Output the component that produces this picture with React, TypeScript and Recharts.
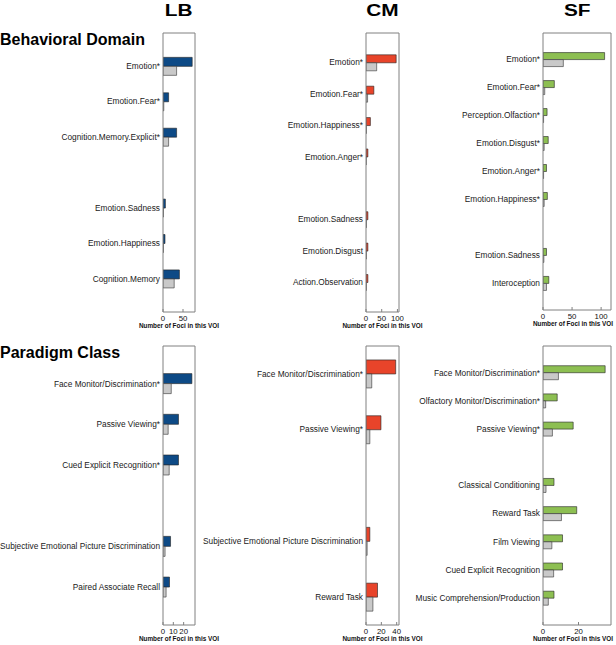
import React from 'react';
import { BarChart, Bar, XAxis, YAxis } from 'recharts';

// Behavioral Domain
const lbDomainCats = ['Emotion*', 'Emotion.Fear*', 'Cognition.Memory.Explicit*', '', 'Emotion.Sadness', 'Emotion.Happiness', 'Cognition.Memory'];
const lbDomainObs = [73, 14, 34, null, 6, 5, 41];
const lbDomainExp = [34, 2, 14, null, 1, 1, 28];

const cmDomainCats = ['Emotion*', 'Emotion.Fear*', 'Emotion.Happiness*', 'Emotion.Anger*', '', 'Emotion.Sadness', 'Emotion.Disgust', 'Action.Observation'];
const cmDomainObs = [96, 25, 14, 6, null, 6, 6, 6];
const cmDomainExp = [34, 5, 1, 0.5, null, 1, 1, 1];

const sfDomainCats = ['Emotion*', 'Emotion.Fear*', 'Perception.Olfaction*', 'Emotion.Disgust*', 'Emotion.Anger*', 'Emotion.Happiness*', '', 'Emotion.Sadness', 'Interoception'];
const sfDomainObs = [106, 19.5, 7, 9, 6, 7.5, null, 6, 10];
const sfDomainExp = [35, 3, 1, 2, 1, 2, null, 1.5, 6];

// Paradigm Class
const lbParadigmCats = ['Face Monitor/Discrimination*', 'Passive Viewing*', 'Cued Explicit Recognition*', '', 'Subjective Emotional Picture Discrimination', 'Paired Associate Recall'];
const lbParadigmObs = [28, 15, 15, null, 7.3, 6.3];
const lbParadigmExp = [8, 5, 6, null, 2, 3];

const cmParadigmCats = ['Face Monitor/Discrimination*', 'Passive Viewing*', '', 'Subjective Emotional Picture Discrimination', 'Reward Task'];
const cmParadigmObs = [38.7, 19.5, null, 5, 15];
const cmParadigmExp = [7.5, 5, null, 1.5, 9];

const sfParadigmCats = ['Face Monitor/Discrimination*', 'Olfactory Monitor/Discrimination*', 'Passive Viewing*', '', 'Classical Conditioning', 'Reward Task', 'Film Viewing', 'Cued Explicit Recognition', 'Music Comprehension/Production'];
const sfParadigmObs = [35, 8, 17, null, 6.2, 19, 11, 11, 6.2];
const sfParadigmExp = [8.7, 1.5, 5.3, null, 1.7, 10.4, 5, 6, 3];

const FONT = '"Liberation Sans", Arial, Helvetica, sans-serif';
const BOX = '#808080';
const GRAY = '#c9c9c9';
const AXIS_LABEL = 'Number of Foci in this VOI';

const panels = [
  { cats: lbDomainCats, obs: lbDomainObs, exp: lbDomainExp, color: '#0d4a86', colX: 0, boxLeft: 163, boxRight: 195, boxTop: 33, boxBottom: 312, xMax: 80, xTicks: [0, 50], pad: 1, labelShift: 0 },
  { cats: cmDomainCats, obs: cmDomainObs, exp: cmDomainExp, color: '#e8442a', colX: 200, boxLeft: 366, boxRight: 399, boxTop: 33, boxBottom: 312, xMax: 105, xTicks: [0, 50, 100], pad: 1, labelShift: 0 },
  { cats: sfDomainCats, obs: sfDomainObs, exp: sfDomainExp, color: '#8dbf52', colX: 400, boxLeft: 543, boxRight: 611, boxTop: 33, boxBottom: 310, xMax: 117, xTicks: [0, 50, 100], pad: 1, labelShift: -4 },
  { cats: lbParadigmCats, obs: lbParadigmObs, exp: lbParadigmExp, color: '#0d4a86', colX: 0, boxLeft: 163, boxRight: 195, boxTop: 346, boxBottom: 625, xMax: 31, xTicks: [0, 10, 20], pad: 1, labelShift: 0 },
  { cats: cmParadigmCats, obs: cmParadigmObs, exp: cmParadigmExp, color: '#e8442a', colX: 200, boxLeft: 366, boxRight: 399, boxTop: 346, boxBottom: 625, xMax: 43, xTicks: [0, 20, 40], pad: 0.5, labelShift: 0 },
  { cats: sfParadigmCats, obs: sfParadigmObs, exp: sfParadigmExp, color: '#8dbf52', colX: 400, boxLeft: 543, boxRight: 611, boxTop: 346, boxBottom: 625, xMax: 38.3, xTicks: [0, 20], pad: 1, labelShift: -4 },
];

const titles = [
  { text: 'LB', center: 179 },
  { text: 'CM', center: 382.5 },
  { text: 'SF', center: 577 },
];

// plain svg text so long category names never wrap
function CatTick(props: any) {
  const { x, y, payload } = props;
  return (
    <text x={x} y={y} dy="0.33em" textAnchor="end" fontSize={8.3} fill="#1a1a1a" fontFamily={FONT}>
      {payload.value}
    </text>
  );
}

function Panel({ spec }: { spec: any }) {
  const data = spec.cats.map((name: string, i: number) => ({ name, obs: spec.obs[i], exp: spec.exp[i] }));
  const boxH = spec.boxBottom - spec.boxTop;
  const slot = boxH / (spec.cats.length + 2 * spec.pad);
  const padPx = slot * (spec.pad - 0.5);
  const topH = 2;
  const bottomH = 14;
  const rightW = 5;
  const width = spec.boxRight - spec.colX + rightW;
  const height = boxH + topH + bottomH;
  const center = (spec.boxLeft + spec.boxRight) / 2 + spec.labelShift;

  return (
    <>
      <div style={{ position: 'absolute', left: spec.colX, top: spec.boxTop - topH }}>
        <BarChart
          layout="vertical"
          width={width}
          height={height}
          data={data}
          margin={{ top: 0, right: 0, bottom: 0, left: 0 }}
          barCategoryGap="25%"
          barGap={0}
        >
          <XAxis
            xAxisId="b"
            type="number"
            orientation="bottom"
            domain={[0, spec.xMax]}
            ticks={spec.xTicks}
            interval={0}
            allowDataOverflow
            height={bottomH}
            stroke={BOX}
            tickSize={-3}
            tickMargin={6}
            tick={{ fontSize: 7.8, fill: '#111', fontFamily: FONT }}
          />
          <XAxis
            xAxisId="t"
            type="number"
            orientation="top"
            domain={[0, spec.xMax]}
            ticks={spec.xTicks}
            interval={0}
            allowDataOverflow
            height={topH}
            stroke={BOX}
            tickSize={-3}
            tick={false}
          />
          <YAxis
            yAxisId="l"
            type="category"
            dataKey="name"
            orientation="left"
            width={spec.boxLeft - spec.colX}
            padding={{ top: padPx, bottom: padPx }}
            interval={0}
            stroke={BOX}
            tickLine={false}
            tickSize={0}
            tickMargin={3}
            tick={<CatTick />}
          />
          <YAxis
            yAxisId="r"
            type="category"
            dataKey="name"
            orientation="right"
            width={rightW}
            padding={{ top: padPx, bottom: padPx }}
            interval={0}
            stroke={BOX}
            tickSize={-3}
            tick={false}
          />
          <Bar xAxisId="b" yAxisId="l" dataKey="obs" fill={spec.color} stroke="#222" strokeWidth={0.6} isAnimationActive={false} />
          <Bar xAxisId="b" yAxisId="l" dataKey="exp" fill={GRAY} stroke="#333" strokeWidth={0.6} isAnimationActive={false} />
        </BarChart>
      </div>
      <div style={{ position: 'absolute', left: center - 60, top: spec.boxBottom + 10.5, width: 120, textAlign: 'center', fontSize: 6.4, lineHeight: '6.5px', fontWeight: 'bold', color: '#111', whiteSpace: 'nowrap' }}>
        {AXIS_LABEL}
      </div>
    </>
  );
}

export default function App() {
  return (
    <div style={{ position: 'absolute', left: 0, top: 0, width: 616, height: 645, background: '#fff', fontFamily: FONT, overflow: 'hidden' }}>
      {titles.map((t) => (
        <div key={t.text} style={{ position: 'absolute', left: t.center - 40, top: 2.5, width: 80, textAlign: 'center', fontSize: 16, lineHeight: '16px', fontWeight: 'bold', color: '#000' }}>
          <span style={{ display: 'inline-block', transform: 'scaleX(1.3)' }}>{t.text}</span>
        </div>
      ))}
      <div style={{ position: 'absolute', left: 0, top: 31.5, fontSize: 16, lineHeight: '16px', fontWeight: 'bold', color: '#000' }}>Behavioral Domain</div>
      <div style={{ position: 'absolute', left: 0, top: 344.5, fontSize: 16, lineHeight: '16px', fontWeight: 'bold', color: '#000' }}>Paradigm Class</div>
      {panels.map((p, i) => (
        <Panel key={i} spec={p} />
      ))}
    </div>
  );
}
